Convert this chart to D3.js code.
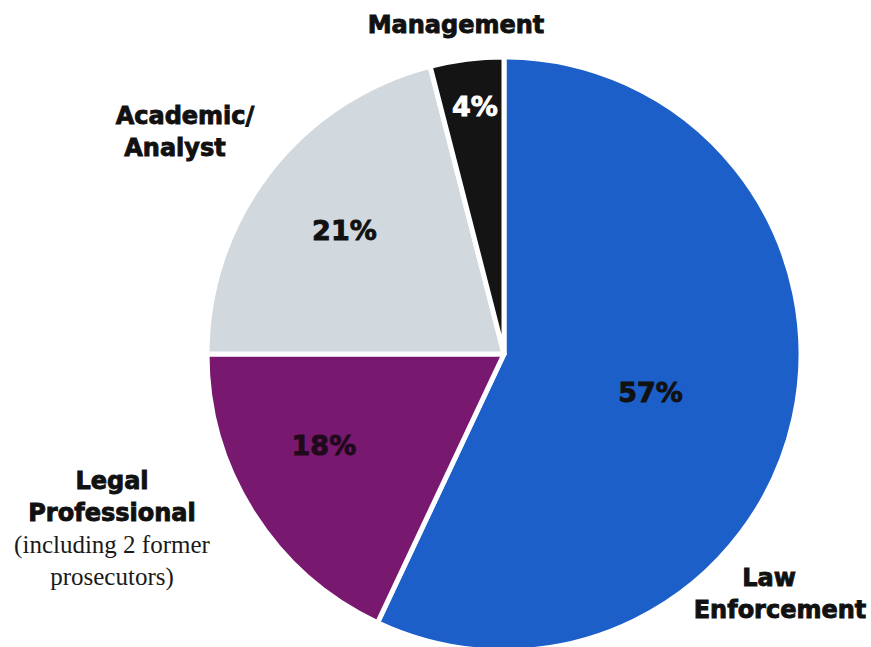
<!DOCTYPE html>
<html>
<head>
<meta charset="utf-8">
<script src="https://cdn.jsdelivr.net/npm/d3@7"></script>
<style>
  body { margin: 0; background: #fff; }
  svg { display: block; }
  .cat { font-family: "DejaVu Sans", sans-serif; font-weight: bold; font-size: 24px; fill: #111; stroke: #111; stroke-width: 0.9px; }
  .note { font-family: "Liberation Serif", serif; font-size: 25px; fill: #1a1a1a; }
  .pct { font-family: "DejaVu Sans", sans-serif; font-weight: bold; font-size: 27px; stroke-width: 0.9px; }
</style>
</head>
<body>
<svg id="chart" width="871" height="647"></svg>
<script>
// data
var categories = ["Law Enforcement", "Legal Professional", "Academic/Analyst", "Management"];
var shares = [57, 18, 21, 4];
var pctLabels = ["57%", "18%", "21%", "4%"];

var colors = ["#1d5fc9", "#78186e", "#d1d9df", "#141414"];
var pctColors = ["#111", "#1f0a1c", "#111", "#fff"];
// label spot: fraction of radius and a small turn (degrees) from mid-angle
var pctRadius = [0.51, 0.68, 0.68, 0.84];
var pctTurn = [2, 5.5, 0, 0.5];

var width = 871, height = 647;
var cx = 504, cy = 354, r = 297;

var svg = d3.select("#chart");
var g = svg.append("g").attr("transform", "translate(" + cx + "," + cy + ")");

var pie = d3.pie().sort(null).value(function(d) { return d; });
var arcs = pie(shares);

var arc = d3.arc().innerRadius(0).outerRadius(r);

g.selectAll("path.slice")
  .data(arcs)
  .enter().append("path")
  .attr("class", "slice")
  .attr("d", arc)
  .attr("fill", function(d, i) { return colors[i]; })
  .attr("stroke", "#fff")
  .attr("stroke-width", 5)
  .attr("stroke-linejoin", "round");

// percent labels
g.selectAll("text.pct")
  .data(arcs)
  .enter().append("text")
  .attr("class", "pct")
  .attr("text-anchor", "middle")
  .attr("dy", "0.36em")
  .attr("transform", function(d, i) {
    var a = (d.startAngle + d.endAngle) / 2 + pctTurn[i] * Math.PI / 180;
    var rr = r * pctRadius[i];
    return "translate(" + (Math.sin(a) * rr) + "," + (-Math.cos(a) * rr) + ")";
  })
  .attr("fill", function(d, i) { return pctColors[i]; })
  .attr("stroke", function(d, i) { return pctColors[i]; })
  .text(function(d, i) { return pctLabels[i]; });

// category labels, placed around the pie
var catLayout = [
  { x: 780, y: 586, lines: [["Law", "cat"], ["Enforcement", "cat"]], dxs: [-11, 0] },
  { x: 112, y: 489, lines: [["Legal", "cat"], ["Professional", "cat"], ["(including 2 former", "note"], ["prosecutors)", "note"]], dxs: [0, 0, 0, 0] },
  { x: 185, y: 124, lines: [["Academic/", "cat"], ["Analyst", "cat"]], dxs: [0, -10] },
  { x: 456, y: 33, lines: [["Management", "cat"]], dxs: [0] }
];
var lineGap = 32;

catLayout.forEach(function(c, i) {
  var t = svg.append("text")
    .attr("text-anchor", "middle")
    .attr("data-category", categories[i]);
  c.lines.forEach(function(l, j) {
    t.append("tspan")
      .attr("class", l[1])
      .attr("x", c.x + c.dxs[j])
      .attr("y", c.y + j * lineGap)
      .text(l[0]);
  });
});
</script>
</body>
</html>
